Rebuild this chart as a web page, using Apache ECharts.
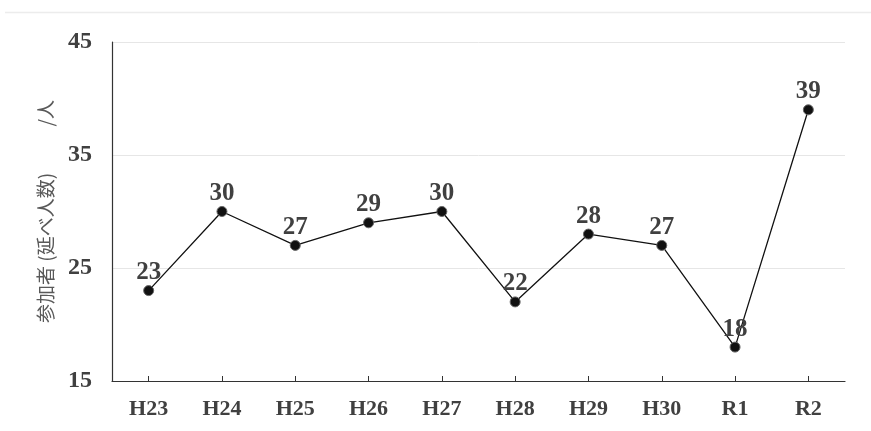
<!DOCTYPE html>
<html><head><meta charset="utf-8">
<script src="https://cdn.jsdelivr.net/npm/echarts@6/dist/echarts.min.js"></script>
<style>html,body{margin:0;padding:0;background:#fff}#c{width:871px;height:431px}</style>
</head><body><div id="c"></div>
<script>
const categories = ['H23','H24','H25','H26','H27','H28','H29','H30','R1','R2'];
const participants = [23,30,27,29,30,22,28,27,18,39];
const yTicks = [15,25,35,45];
const yName = '参加者 (延べ人数)　　  /人';

const chart = echarts.init(document.getElementById('c'));
const serif = '"Liberation Serif","DejaVu Serif",serif';
chart.setOption({
  backgroundColor: '#fff',
  animation: false,
  graphic: [{type:'line', shape:{x1:5,y1:12.5,x2:871,y2:12.5}, style:{stroke:'#ececec', lineWidth:1.5}}],
  grid: {left:112, right:26, top:42, bottom:50},
  xAxis: {
    type:'category', data: categories, boundaryGap:true,
    axisLine:{lineStyle:{color:'#333', width:1.2}},
    axisTick:{show:true, inside:true, alignWithLabel:true, length:5, lineStyle:{color:'#333'}},
    axisLabel:{color:'#404040', fontFamily:serif, fontWeight:'bold', fontSize:22, margin:17}
  },
  yAxis: {
    type:'value', min: yTicks[0], max: yTicks[yTicks.length-1], interval: 10,
    name: yName, nameLocation:'middle', nameRotate:90, nameGap:57,
    nameTextStyle:{color:'#595959', fontFamily:'"Noto Sans CJK JP",sans-serif', fontSize:19},
    axisLine:{show:true, lineStyle:{color:'#333', width:1.2}},
    axisTick:{show:false},
    splitLine:{lineStyle:{color:'#e6e6e6', width:1}},
    axisLabel:{color:'#404040', fontFamily:serif, fontWeight:'bold', fontSize:24, margin:20}
  },
  series: [{
    type:'line', data: participants,
    lineStyle:{color:'#111', width:1.3},
    symbol:'circle', symbolSize:10,
    itemStyle:{color:'#111', borderColor:'#666', borderWidth:1},
    label:{show:true, position:'top', distance:0, color:'#404040', fontFamily:serif, fontWeight:'bold', fontSize:25}
  }]
});
</script></body></html>
